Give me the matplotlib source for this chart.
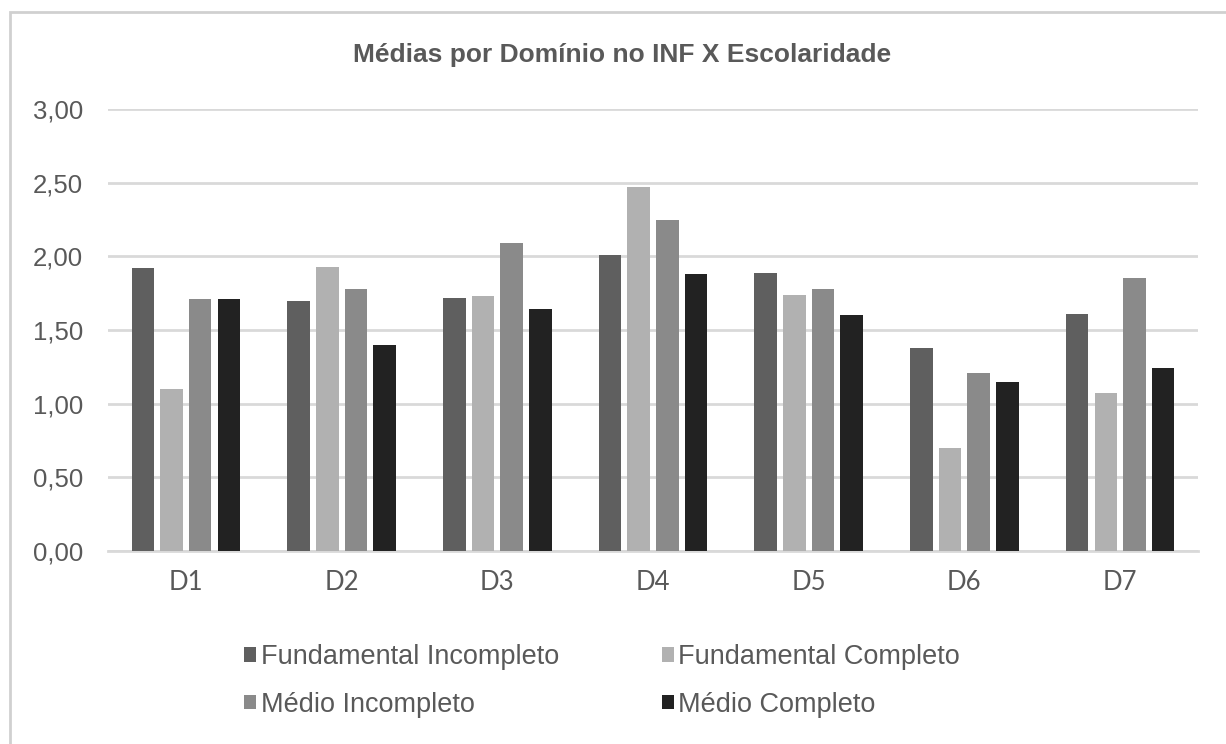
import matplotlib
matplotlib.use("Agg")
import matplotlib.pyplot as plt
import numpy as np
from matplotlib.patches import Patch, Rectangle

categories = ["D1", "D2", "D3", "D4", "D5", "D6", "D7"]
series_names = ["Fundamental Incompleto", "Fundamental Completo", "Médio Incompleto", "Médio Completo"]
fund_incompleto = [1.92, 1.70, 1.72, 2.01, 1.89, 1.38, 1.61]
fund_completo = [1.10, 1.93, 1.73, 2.47, 1.74, 0.70, 1.07]
medio_incompleto = [1.71, 1.78, 2.09, 2.25, 1.78, 1.21, 1.85]
medio_completo = [1.71, 1.40, 1.64, 1.88, 1.60, 1.15, 1.24]
yticks = [0, 0.5, 1.0, 1.5, 2.0, 2.5, 3.0]
ytick_labels = ["0,00", "0,50", "1,00", "1,50", "2,00", "2,50", "3,00"]
title = "Médias por Domínio no INF X Escolaridade"

colors = ["#5f5f5f", "#b1b1b1", "#8a8a8a", "#222222"]
text_color = "#595959"

W, H = 1226, 744
fig = plt.figure(figsize=(W / 100, H / 100), dpi=100)
fig.patch.set_facecolor("white")

ax = fig.add_axes([108 / W, 1 - 551 / H, (1198 - 108) / W, (551 - 109) / H])
x = np.arange(len(categories))
slot = 0.184
bw = 0.145
data = [fund_incompleto, fund_completo, medio_incompleto, medio_completo]
for i, (vals, c) in enumerate(zip(data, colors)):
    ax.bar(x + (i - 1.5) * slot, vals, width=bw, color=c, zorder=3, linewidth=0)

ax.set_xlim(-0.5, len(categories) - 0.5)
ax.set_ylim(0, 3.0)
ax.set_yticks(yticks)
ax.set_yticklabels(ytick_labels, fontsize=18.5, color=text_color, family="Liberation Sans")
ax.set_xticks(x)
ax.set_xticklabels(categories, fontsize=18.5, color=text_color, family="Lato")
ax.tick_params(axis="both", length=0)
ax.tick_params(axis="y", pad=18)
ax.tick_params(axis="x", pad=14)
ax.yaxis.grid(True, color="#d9d9d9", linewidth=2, zorder=0)
ax.set_axisbelow(True)
for s in ["top", "right", "left"]:
    ax.spines[s].set_visible(False)
ax.spines["bottom"].set_color("#d9d9d9")
ax.spines["bottom"].set_linewidth(2)

fig.text(0.507, 1 - 55 / H, title, ha="center", va="center", fontsize=19,
         fontweight="bold", color=text_color, family="Liberation Sans")

order = [0, 2, 1, 3]
handles = [Patch(facecolor=colors[i], edgecolor="none") for i in order]
labels = [series_names[i] for i in order]
leg = fig.legend(handles, labels, loc="center", bbox_to_anchor=(0.491, 1 - 681 / H),
                 ncol=2, frameon=False, handlelength=0.45, handleheight=0.45,
                 handletextpad=0.15, columnspacing=3.8, labelspacing=0.8,
                 prop={"family": "Liberation Sans", "size": 19.5})
for t in leg.get_texts():
    t.set_color(text_color)

fig.patches.append(Rectangle((10 / W, -0.1), 1.2, 1.1 - 12 / H, transform=fig.transFigure,
                             fill=False, edgecolor="#d0d0d0", linewidth=2))

fig.savefig("out.png", dpi=100)
